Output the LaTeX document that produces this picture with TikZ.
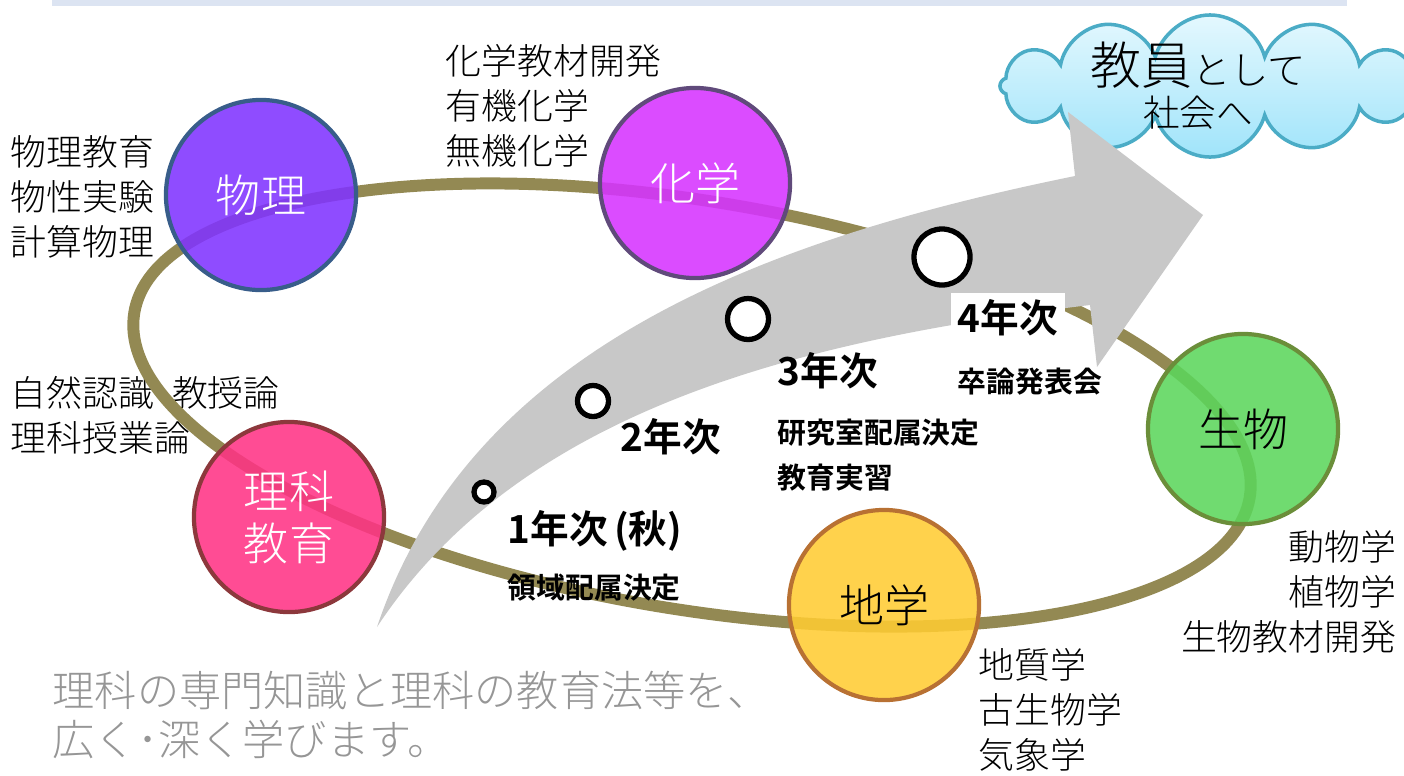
\documentclass[tikz,border=0pt]{standalone}
\usepackage{fontspec}
\setmainfont{Noto Sans CJK JP Light}[BoldFont={Noto Sans CJK JP Bold}]
\usetikzlibrary{shapes.symbols}

\definecolor{orbit}{RGB}{147,137,83}
\definecolor{arrowgray}{RGB}{200,200,200}
\definecolor{topbar}{RGB}{220,228,242}
\definecolor{cloudtop}{RGB}{228,248,254}
\definecolor{cloudbottom}{RGB}{160,228,250}
\definecolor{cloudline}{RGB}{75,172,198}
\definecolor{butsuri}{RGB}{128,51,255}
\definecolor{butsuriline}{RGB}{56,93,138}
\definecolor{kagaku}{RGB}{214,51,255}
\definecolor{kagakuline}{RGB}{96,74,123}
\definecolor{rika}{RGB}{255,51,133}
\definecolor{rikaline}{RGB}{140,56,60}
\definecolor{chigaku}{RGB}{255,204,51}
\definecolor{chigakuline}{RGB}{184,113,51}
\definecolor{seibutsu}{RGB}{92,214,92}
\definecolor{seibutsuline}{RGB}{107,142,58}
\definecolor{captiongray}{RGB}{150,150,150}

\begin{document}
\begin{tikzpicture}[x=0.01cm,y=-0.01cm,
    field/.style={circle,draw,line width=1.2pt,minimum size=1.9cm,inner sep=0pt,
      fill opacity=0.88,text opacity=1,align=center,font=\fontsize{12.8}{14.8}\selectfont},
    milestone/.style={circle,draw=black,fill=white,line width=1.5pt,inner sep=0pt},
    yearlbl/.style={anchor=west,inner sep=2pt,font=\bfseries\fontsize{11}{13}\selectfont},
    sublbl/.style={anchor=west,inner sep=0pt,align=left,font=\bfseries\fontsize{8.2}{12.8}\selectfont},
    topic/.style={inner sep=0pt,font=\fontsize{10.2}{12.8}\selectfont}]

  \useasboundingbox (0,0) rectangle (1404,775);
  \fill[topbar] (52,0) rectangle (1347,6);

  % goal
  \node[cloud,cloud puffs=12,aspect=2.9,draw=cloudline,line width=1pt,
    top color=cloudtop,bottom color=cloudbottom,minimum width=4.2cm,minimum height=1.42cm,
    inner sep=0pt] (goal) at (1210,86) {};
  \node[align=center,inner sep=0pt] (goaltext) at (1198,86)
    {{\fontsize{14.5}{16}\selectfont 教員}{\fontsize{10.9}{12}\selectfont として}\\[0pt]
     {\fontsize{10.4}{12}\selectfont 社会へ}};

  % topics
  \node[topic,anchor=west,align=left] (physlist) at (10,197) {物理教育\\物性実験\\計算物理};
  \node[topic,anchor=west,align=left] (chemlist) at (445,106) {化学教材開発\\有機化学\\無機化学};
  \node[topic,anchor=west,align=left] (edulist) at (10,415) {自然認識･教授論\\理科授業論};
  \node[topic,anchor=east,align=right] (biolist) at (1397,592) {動物学\\植物学\\生物教材開発};
  \node[topic,anchor=west,align=left] (geolist) at (978,710) {地質学\\古生物学\\気象学};
  \node[anchor=west,align=left,inner sep=0pt,text=captiongray,
    font=\fontsize{12}{14.2}\selectfont] (summary) at (52,715)
    {理科の専門知識と理科の教育法等を、\\広く･深く学びます。};

  % orbit
  \draw[orbit,line width=3.4pt,rotate around={-9.4:(692,405)}] (692,405) ellipse [x radius=5.65cm,y radius=2.04cm];

  % progress arrow
  \fill[arrowgray] (377,627) .. controls (470,350) and (760,240) .. (1075,176)
    -- (1068,112) -- (1203,215) -- (1097,367) -- (1090,305)
    .. controls (800,340) and (520,410) .. (377,627) -- cycle;

  \node[milestone,minimum size=0.2cm] (m1) at (484,492) {};
  \node[milestone,minimum size=0.31cm] (m2) at (593,401) {};
  \node[milestone,minimum size=0.41cm] (m3) at (748,319) {};
  \node[milestone,minimum size=0.56cm] (m4) at (942,257) {};

  \node[yearlbl,fill=white,fill opacity=0.8,text opacity=1] (y1) at (500,531) {1年次\,(秋)};
  \node[sublbl] (s1) at (507,588) {領域配属決定};
  \node[yearlbl] (y2) at (613,437) {2年次};
  \node[yearlbl] (y3) at (770,371) {3年次};
  \node[sublbl] (s3) at (777,455) {研究室配属決定\\教育実習};
  \node[yearlbl,fill=white] (y4) at (950,318) {4年次};
  \node[sublbl] (s4) at (957,382) {卒論発表会};

  % fields
  \node[field,fill=butsuri,draw=butsuriline,text=white] (butsuri) at (261,195) {物理};
  \node[field,fill=kagaku,draw=kagakuline,text=white] (kagaku) at (695,183) {化学};
  \node[field,fill=rika,draw=rikaline,text=white] (rika) at (289,517) {理科\\教育};
  \node[field,fill=chigaku,draw=chigakuline] (chigaku) at (884,605) {地学};
  \node[field,fill=seibutsu,draw=seibutsuline] (seibutsu) at (1243,429) {生物};
\end{tikzpicture}
\end{document}
